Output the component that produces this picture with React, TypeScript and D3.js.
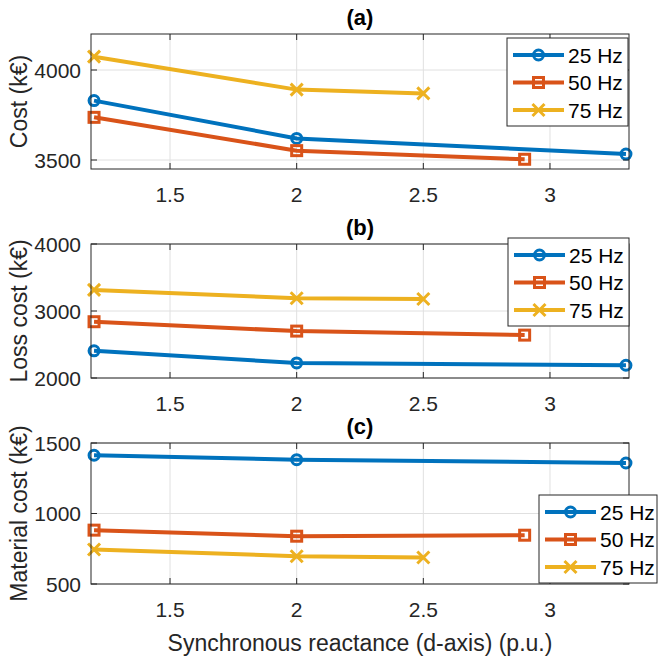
import React from "react";
import * as d3 from "d3";

// x positions (synchronous reactance, p.u.) for each frequency
const x25 = [1.2, 2, 3.3];
const x50 = [1.2, 2, 2.9];
const x75 = [1.2, 2, 2.5];

// (a) total cost
const cost25 = [3830, 3620, 3533];
const cost50 = [3737, 3552, 3504];
const cost75 = [4074, 3891, 3870];

// (b) loss cost
const loss25 = [2405, 2225, 2190];
const loss50 = [2840, 2700, 2640];
const loss75 = [3315, 3190, 3180];

// (c) material cost
const mat25 = [1413, 1382, 1358];
const mat50 = [882, 839, 846];
const mat75 = [745, 697, 688];

const xTicks = [1.5, 2, 2.5, 3];
const seriesNames = ["25 Hz", "50 Hz", "75 Hz"];
const colors = ["#0072BD", "#D95319", "#EDB120"];
const markers = ["circle", "square", "cross"];

const FONT = "Liberation Sans, Arial, Helvetica, sans-serif";
const INK = "#262626";
const W = 660;
const H = 662;
const LEFT = 91;
const RIGHT = 629;

const x = d3.scaleLinear().domain([1.188, 3.312]).range([LEFT, RIGHT]);

const Marker = ({ kind, cx, cy, color }) => {
  if (kind === "circle")
    return <circle cx={cx} cy={cy} r={5} fill="none" stroke={color} strokeWidth={3} />;
  if (kind === "square")
    return <rect x={cx - 5} y={cy - 5} width={10} height={10} fill="none" stroke={color} strokeWidth={3} />;
  return (
    <path
      d={`M${cx - 6},${cy - 6}L${cx + 6},${cy + 6}M${cx - 6},${cy + 6}L${cx + 6},${cy - 6}`}
      stroke={color}
      strokeWidth={3}
    />
  );
};

const Panel = ({ title, ylabel, top, bottom, yDomain, yTicks, series, legend }) => {
  const y = d3.scaleLinear().domain(yDomain).range([bottom, top]);
  const line = d3
    .line()
    .x((d) => x(d[0]))
    .y((d) => y(d[1]));
  const mid = (top + bottom) / 2;
  return (
    <g>
      {/* grid */}
      {xTicks.map((t) => (
        <line key={"gx" + t} x1={x(t)} x2={x(t)} y1={top} y2={bottom} stroke="#e0e0e0" strokeWidth={1} />
      ))}
      {yTicks.map((t) => (
        <line key={"gy" + t} x1={LEFT} x2={RIGHT} y1={y(t)} y2={y(t)} stroke="#e0e0e0" strokeWidth={1} />
      ))}
      {/* data */}
      {series.map((s, i) => {
        const pts = s.xs.map((v, j) => [v, s.ys[j]]);
        return (
          <g key={i}>
            <path d={line(pts)} fill="none" stroke={colors[i]} strokeWidth={4} />
            {pts.map((p, j) => (
              <Marker key={j} kind={markers[i]} cx={x(p[0])} cy={y(p[1])} color={colors[i]} />
            ))}
          </g>
        );
      })}
      {/* box and ticks */}
      <rect x={LEFT} y={top} width={RIGHT - LEFT} height={bottom - top} fill="none" stroke={INK} strokeWidth={1} />
      {xTicks.map((t) => (
        <g key={"tx" + t}>
          <line x1={x(t)} x2={x(t)} y1={bottom} y2={bottom - 6} stroke={INK} />
          <line x1={x(t)} x2={x(t)} y1={top} y2={top + 6} stroke={INK} />
          <text x={x(t)} y={bottom + 25} textAnchor="middle" dominantBaseline="central" fontSize={21} fill={INK}>
            {t}
          </text>
        </g>
      ))}
      {yTicks.map((t) => (
        <g key={"ty" + t}>
          <line x1={LEFT} x2={LEFT + 6} y1={y(t)} y2={y(t)} stroke={INK} />
          <line x1={RIGHT} x2={RIGHT - 6} y1={y(t)} y2={y(t)} stroke={INK} />
          <text x={LEFT - 10} y={y(t)} textAnchor="end" dominantBaseline="central" fontSize={21} fill={INK}>
            {t}
          </text>
        </g>
      ))}
      <text x={(LEFT + RIGHT) / 2} y={top - 17} textAnchor="middle" dominantBaseline="central" fontSize={22} fontWeight="bold" fill="#000">
        {title}
      </text>
      <text
        transform={`translate(19,${mid}) rotate(-90)`}
        textAnchor="middle"
        dominantBaseline="central"
        fontSize={23}
        fill={INK}
      >
        {ylabel}
      </text>
      {/* legend */}
      <g transform={`translate(${legend.x},${legend.y})`}>
        <rect x={0} y={0} width={legend.w} height={88} fill="#fff" stroke={INK} strokeWidth={1} />
        {seriesNames.map((n, i) => {
          const cy = 17 + i * 27.5;
          return (
            <g key={n}>
              <line x1={6} x2={57} y1={cy} y2={cy} stroke={colors[i]} strokeWidth={4} />
              <Marker kind={markers[i]} cx={31.5} cy={cy} color={colors[i]} />
              <text x={61} y={cy} dominantBaseline="central" fontSize={21} fill="#000">
                {n}
              </text>
            </g>
          );
        })}
      </g>
    </g>
  );
};

export default function App() {
  return (
    <svg
      width={W}
      height={H}
      style={{ position: "absolute", left: 0, top: 0, display: "block", fontFamily: FONT, background: "#fff" }}
    >
      <rect width={W} height={H} fill="#fff" />
      <Panel
        title="(a)"
        ylabel="Cost (k€)"
        top={34}
        bottom={169}
        yDomain={[3450, 4200]}
        yTicks={[3500, 4000]}
        series={[
          { xs: x25, ys: cost25 },
          { xs: x50, ys: cost50 },
          { xs: x75, ys: cost75 },
        ]}
        legend={{ x: 507, y: 38, w: 121 }}
      />
      <Panel
        title="(b)"
        ylabel="Loss cost (k€)"
        top={244}
        bottom={378}
        yDomain={[2000, 4000]}
        yTicks={[2000, 3000, 4000]}
        series={[
          { xs: x25, ys: loss25 },
          { xs: x50, ys: loss50 },
          { xs: x75, ys: loss75 },
        ]}
        legend={{ x: 508, y: 238, w: 121 }}
      />
      <Panel
        title="(c)"
        ylabel="Material cost (k€)"
        top={443}
        bottom={584}
        yDomain={[500, 1500]}
        yTicks={[500, 1000, 1500]}
        series={[
          { xs: x25, ys: mat25 },
          { xs: x50, ys: mat50 },
          { xs: x75, ys: mat75 },
        ]}
        legend={{ x: 539, y: 495, w: 118 }}
      />
      <text x={(LEFT + RIGHT) / 2} y={643} textAnchor="middle" dominantBaseline="central" fontSize={23} fill={INK}>
        Synchronous reactance (d-axis) (p.u.)
      </text>
    </svg>
  );
}
